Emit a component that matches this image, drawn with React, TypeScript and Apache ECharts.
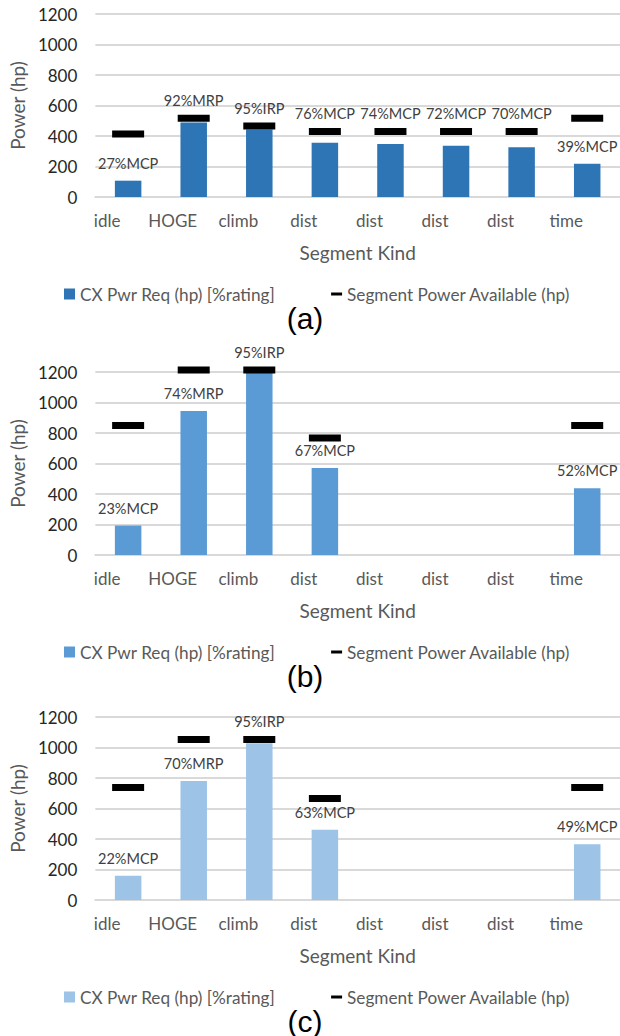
import React, { useEffect, useRef } from "react";
import * as echarts from "echarts";

const categories = ["idle", "HOGE", "climb", "dist", "dist", "dist", "dist", "time"];
const yTicks = [0, 200, 400, 600, 800, 1000, 1200];

const reqA = [107, 488, 442, 355, 347, 336, 327, 218];
const availA = [413, 517, 465, 430, 430, 430, 430, 517];
const labelsA = ["27%MCP", "92%MRP", "95%IRP", "76%MCP", "74%MCP", "72%MCP", "70%MCP", "39%MCP"];

const reqB = [193, 944, 1200, 570, null, null, null, 438];
const availB = [850, 1213, 1213, 767, null, null, null, 850];
const labelsB = ["23%MCP", "74%MRP", "95%IRP", "67%MCP", "", "", "", "52%MCP"];

const reqC = [159, 780, 1028, 460, null, null, null, 366];
const availC = [738, 1052, 1052, 666, null, null, null, 738];
const labelsC = ["22%MCP", "70%MRP", "95%IRP", "63%MCP", "", "", "", "49%MCP"];

const captions = ["(a)", "(b)", "(c)"];
const REQ = "CX Pwr Req (hp) [%rating]";
const AVAIL = "Segment Power Available (hp)";

const panels = [
  { req: reqA, avail: availA, labels: labelsA, color: "#2E75B6", top: 14, caption: captions[0] },
  { req: reqB, avail: availB, labels: labelsB, color: "#5B9BD5", top: 372, caption: captions[1] },
  { req: reqC, avail: availC, labels: labelsC, color: "#9DC3E6", top: 717, caption: captions[2] },
];

const FONT = "Lato";
const GRID_H = 183;
const PX_PER_HP = GRID_H / 1200;

export default function App() {
  const ref = useRef<HTMLDivElement>(null);
  useEffect(() => {
    if (!ref.current) return;
    const chart = echarts.init(ref.current, null, { renderer: "svg" });
    const grids: any[] = [];
    const xAxes: any[] = [];
    const yAxes: any[] = [];
    const series: any[] = [];
    const legends: any[] = [];
    const graphics: any[] = [];
    const labelStyle = { color: "#404040", fontSize: 14.5, fontFamily: FONT };

    panels.forEach((p, i) => {
      grids.push({ left: 91, width: 530, top: p.top, height: GRID_H });
      xAxes.push({
        type: "category",
        gridIndex: i,
        data: categories,
        axisLine: { show: true, lineStyle: { color: "#D9D9D9", width: 2 } },
        axisTick: { show: false },
        axisLabel: {
          color: "#595959",
          fontSize: 17,
          fontFamily: FONT,
          margin: 15,
          interval: 0,
          padding: [0, 42, 0, 0],
        },
        name: "Segment Kind",
        nameLocation: "middle",
        nameGap: 55,
        nameTextStyle: { color: "#595959", fontSize: 19, fontFamily: FONT, verticalAlign: "middle" },
      });
      yAxes.push({
        type: "value",
        gridIndex: i,
        min: yTicks[0],
        max: yTicks[yTicks.length - 1],
        interval: 200,
        axisLine: { show: false },
        axisTick: { show: false },
        splitLine: { lineStyle: { color: "#D9D9D9", width: 2 } },
        axisLabel: {
          color: "#262626",
          fontSize: 17,
          fontFamily: FONT,
          margin: 18,
          formatter: (v: number) => String(v),
        },
        name: "Power (hp)",
        nameLocation: "middle",
        nameGap: 71,
        nameTextStyle: { color: "#595959", fontSize: 19, fontFamily: FONT, verticalAlign: "middle" },
      });
      const onMarker = p.req.map((r, k) => {
        const a = p.avail[k];
        if (r == null || a == null) return false;
        return (a - r) * PX_PER_HP < 25;
      });
      series.push({
        name: REQ,
        type: "bar",
        xAxisIndex: i,
        yAxisIndex: i,
        barWidth: 26.5,
        itemStyle: { color: p.color },
        z: 2,
        data: p.req.map((v, k) => ({
          value: v,
          label: {
            show: v != null && !onMarker[k],
            position: "top",
            distance: 10,
            formatter: () => p.labels[k],
            ...labelStyle,
          },
        })),
      });
      series.push({
        name: AVAIL,
        type: "scatter",
        xAxisIndex: i,
        yAxisIndex: i,
        symbol: "rect",
        symbolSize: [32, 7],
        clip: false,
        itemStyle: { color: "#000000", opacity: 1 },
        z: 3,
        data: p.avail.map((v, k) => ({
          value: v,
          label: {
            show: v != null && onMarker[k],
            position: "top",
            distance: 7,
            formatter: () => p.labels[k],
            ...labelStyle,
          },
        })),
      });
      const base = p.top + GRID_H;
      legends.push({
        left: 59,
        top: base + 92 - 11,
        itemGap: 56,
        itemWidth: 11,
        itemHeight: 11,
        selectedMode: false,
        textStyle: { color: "#595959", fontSize: 17.2, fontFamily: FONT, lineHeight: 22 },
        data: [
          { name: REQ, icon: "rect", itemStyle: { color: p.color } },
          { name: AVAIL, icon: "path://M0,0 L11,0 L11,3 L0,3 Z", itemStyle: { color: "#000000" } },
        ],
      });
      graphics.push({
        type: "text",
        x: 305,
        y: base + 121,
        style: {
          text: p.caption,
          fontSize: 30,
          fontFamily: "Liberation Sans",
          fill: "#000000",
          textAlign: "center",
          textVerticalAlign: "middle",
        },
      });
    });

    chart.setOption({
      animation: false,
      backgroundColor: "#ffffff",
      grid: grids,
      xAxis: xAxes,
      yAxis: yAxes,
      legend: legends,
      series,
      graphic: graphics,
    });
    return () => chart.dispose();
  }, []);
  return (
    <div
      ref={ref}
      style={{ position: "fixed", left: 0, top: 0, width: 620, height: 1036, background: "#fff" }}
    />
  );
}
